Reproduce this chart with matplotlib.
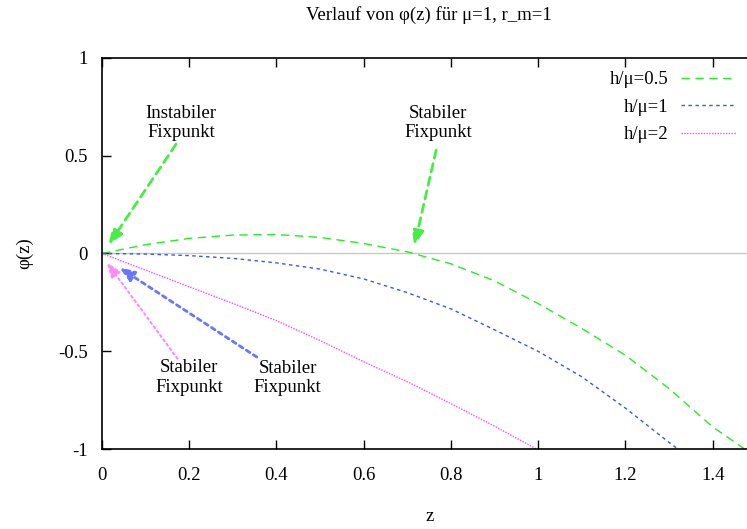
import matplotlib
matplotlib.use("Agg")
import matplotlib.pyplot as plt

plt.rcParams['font.family'] = ['Liberation Serif', 'DejaVu Serif']
plt.rcParams['axes.unicode_minus'] = False

# Werte
z_05 = [0, 0.1, 0.2, 0.3, 0.4, 0.5, 0.6, 0.7, 0.8, 0.9, 1.0, 1.1, 1.2, 1.3, 1.4, 1.474]
phi_05 = [0, 0.045, 0.077, 0.094, 0.097, 0.082, 0.051, 0.008, -0.053, -0.14, -0.256, -0.383, -0.52, -0.69, -0.886, -1.0]

z_1 = [0, 0.1, 0.2, 0.3, 0.4, 0.5, 0.6, 0.7, 0.8, 0.9, 1.0, 1.1, 1.2, 1.3, 1.321]
phi_1 = [0, -0.003, -0.011, -0.025, -0.048, -0.08, -0.13, -0.2, -0.283, -0.39, -0.5, -0.63, -0.79, -0.965, -1.0]

z_2 = [0, 0.1, 0.2, 0.3, 0.4, 0.5, 0.6, 0.7, 0.8, 0.9, 0.997]
phi_2 = [0, -0.085, -0.17, -0.255, -0.343, -0.445, -0.553, -0.655, -0.767, -0.882, -1.0]

labels = ['h/μ=0.5', 'h/μ=1', 'h/μ=2']
colors = ['#22ee22', '#3355ff', '#ff44ff']
arrow_colors = ['#44ee44', '#6677ff', '#ff88ff']

xticks = [0, 0.2, 0.4, 0.6, 0.8, 1, 1.2, 1.4]
xticklabels = ['0', '0.2', '0.4', '0.6', '0.8', '1', '1.2', '1.4']
yticks = [-1, -0.5, 0, 0.5, 1]
yticklabels = ['-1', '-0.5', '0', '0.5', '1']

fs = 13.5

fig = plt.figure(figsize=(7.47, 5.29), dpi=100)
ax = fig.add_axes([0.1365, 0.1507, 0.876, 0.7403])

ax.axhline(0, color='#c8c8c8', lw=1, zorder=1)
ax.plot(z_05, phi_05, color=colors[0], lw=1, dashes=(6, 4), label=labels[0])
ax.plot(z_1, phi_1, color=colors[1], lw=1, dashes=(2.5, 2.5), label=labels[1])
ax.plot(z_2, phi_2, color=colors[2], lw=1, dashes=(1, 1), label=labels[2])

ax.set_xlim(0, 1.5)
ax.set_ylim(-1, 1)
ax.set_xticks(xticks)
ax.set_xticklabels(xticklabels)
ax.set_yticks(yticks)
ax.set_yticklabels(yticklabels)
ax.tick_params(direction='in', length=6.5, width=1, top=True, right=True,
               labelsize=fs)
ax.tick_params(axis='x', pad=13)
ax.tick_params(axis='y', pad=10)
for s in ax.spines.values():
    s.set_linewidth(1.2)

ax.set_title('Verlauf von φ(z) für μ=1, r_m=1', fontsize=fs, pad=27)
ax.set_xlabel('z', fontsize=fs, labelpad=17)
ax.set_ylabel('φ(z)', fontsize=fs, labelpad=18)

# Pfeile und Beschriftungen
def pfeil(start, ziel, col, ls, lw=2):
    ax.annotate('', xy=ziel, xytext=start,
                arrowprops=dict(arrowstyle='-|>,head_length=0.9,head_width=0.35',
                                color=col, lw=lw, ls=ls, shrinkA=0, shrinkB=0))

pfeil((0.17, 0.559), (0.015, 0.044), arrow_colors[0], (0, (3, 2)))
pfeil((0.766, 0.528), (0.716, 0.039), arrow_colors[0], (0, (3, 2)))
pfeil((0.355, -0.529), (0.04, -0.072), arrow_colors[1], (0, (1.5, 1.5)))
pfeil((0.173, -0.537), (0.011, -0.046), arrow_colors[2], (0, (1, 1.6)), lw=1.5)

ax.text(0.181, 0.666, 'Instabiler\nFixpunkt', ha='center', va='center', fontsize=fs, linespacing=1.18)
ax.text(0.77, 0.666, 'Stabiler\nFixpunkt', ha='center', va='center', fontsize=fs, linespacing=1.18)
ax.text(0.2, -0.633, 'Stabiler\nFixpunkt', ha='center', va='center', fontsize=fs, linespacing=1.18)
ax.text(0.426, -0.637, 'Stabiler\nFixpunkt', ha='center', va='center', fontsize=fs, linespacing=1.18)

ax.legend(loc='upper right', bbox_to_anchor=(736 / 747, 1 - 71 / 529),
          bbox_transform=fig.transFigure, frameon=False, markerfirst=False,
          fontsize=fs, handlelength=2.95, handletextpad=0.64, labelspacing=0.56,
          borderpad=0, borderaxespad=0)

fig.savefig('out.png', dpi=100)
